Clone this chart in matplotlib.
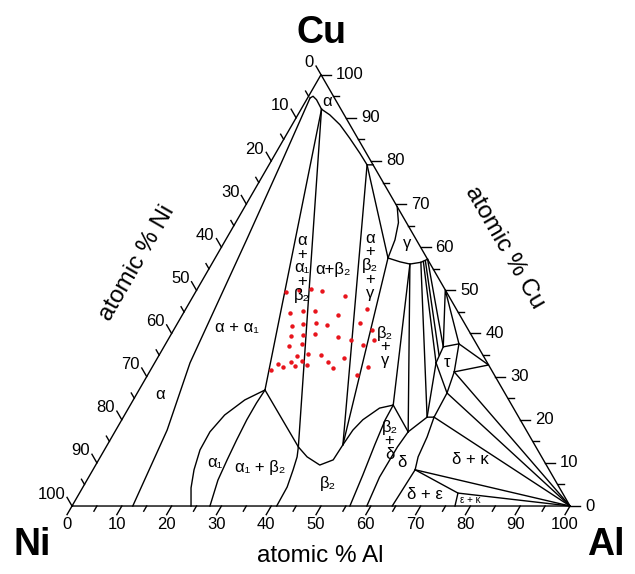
import matplotlib.pyplot as plt
import numpy as np

plt.rcParams['font.family'] = ['Liberation Sans', 'DejaVu Sans']

H = np.sqrt(3) / 2

# phase boundaries, points given as (at% Al, at% Cu)
alpha_line = [(12.2, 0), (10.3, 17.6), (7.1, 33.2), (4.2, 61.7), (2.2, 80), (0.5, 94.6)]
alpha_cap = [(0.5, 94.6), (0.9, 95.0), (2.0, 94.2), (4.1, 92.0), (6.4, 90.7), (9.6, 88.4),
             (13.1, 85.3), (16.9, 81.8), (19.7, 79.1), (20.9, 79.1)]
line_a = [(4.1, 92.0), (25.3, 26.9)]
line_b = [(4.1, 92.0), (38.6, 13.7), (39.5, 11.4), (40.2, 8.4), (41.0, 4.4), (41.1, 0)]
alpha1_left = [(25.3, 26.9), (22.4, 24.6), (20.1, 21.1), (19.1, 17.2), (19.2, 13.0),
               (20.3, 8.4), (21.8, 4.2), (23.9, 0)]
alpha1_right = [(25.3, 26.9), (25.1, 23.9), (25.1, 20.0), (25.4, 15.3), (25.8, 10.7),
                (26.3, 6.0), (27.7, 0)]
a1_b2_top = [(25.3, 26.9), (38.6, 13.7)]
beta2_top = [(38.6, 13.7), (41.5, 11.4), (45.0, 9.5), (47.1, 10.7), (47.3, 14.2),
             (47.6, 17.6), (48.4, 20.0), (50.4, 22.7), (52.8, 23.4)]
beta2_right = [(52.8, 23.4), (52.9, 20.0), (53.7, 14.2), (54.8, 7.2), (55.8, 0)]
alpha_beta2 = [(19.7, 79.1), (47.3, 14.2)]
alpha_gamma = [(19.7, 79.1), (34.7, 57.5)]
gamma_left = [(30.6, 69.4), (32.7, 65.7), (34.0, 61.7), (34.7, 57.5)]
gamma_bottom = [(34.7, 57.5), (37.6, 56.6), (39.8, 56.1), (41.8, 56.5), (42.8, 57.2)]
gamma_beta2 = [(34.7, 57.5), (47.3, 14.2)]
gamma_beta2_r = [(39.8, 56.1), (52.8, 23.4)]
gamma_delta = [(39.8, 56.1), (58.9, 17.2)]
beta2_delta = [(52.8, 23.4), (58.9, 17.2)]
delta_left = [(58.9, 17.2), (58.5, 13.7), (58.4, 6.7), (59.2, 0)]
delta_top = [(58.9, 17.2), (61.0, 20.6), (62.4, 20.6)]
delta_right = [(62.4, 20.6), (63.3, 16.0), (63.8, 11.4), (64.7, 8.4), (64.3, 0)]
delta_eps = [(64.7, 8.4), (76.0, 3.0), (76.9, 0)]
tau = [(56.5, 33.2), (56.1, 36.9), (58.9, 37.6), (61.2, 31.1), (62.2, 26.2), (56.5, 33.2)]
tau_delta = [(56.5, 33.2), (61.0, 20.6)]
tau_delta_r = [(62.2, 26.2), (62.4, 20.6)]
tau_top = [(56.1, 36.9), (49.9, 50.1), (58.9, 37.6)]
tau_right = [(58.9, 37.6), (67.3, 32.7), (61.2, 31.1)]
gamma_fan = [[(41.8, 56.5), (61.0, 20.6)],
             [(42.2, 56.7), (56.5, 33.2)],
             [(42.5, 56.9), (56.2, 35.0)],
             [(42.8, 57.2), (56.1, 36.9)]]
al_corner_ties = [(76.0, 3.0), (64.7, 8.4), (62.4, 20.6), (62.2, 26.2), (61.2, 31.1)]

boundaries = [alpha_line, alpha_cap, line_a, line_b, alpha1_left, alpha1_right, a1_b2_top,
              beta2_top, beta2_right, alpha_beta2, alpha_gamma, gamma_left, gamma_bottom,
              gamma_beta2, gamma_beta2_r, gamma_delta, beta2_delta, delta_left, delta_top,
              delta_right, delta_eps, tau, tau_delta, tau_delta_r, tau_top, tau_right] + gamma_fan

# measured alloys (red dots)
dots_al = [18.2, 20.5, 22.8, 25.2, 30.5, 21.5, 23.8, 26.2, 31.2, 36.4,
           23.2, 25.3, 27.7, 30.3, 36.6, 24.2, 26.5, 28.9, 33.9, 39.8,
           25.1, 27.3, 36.8, 39.7, 41.4, 27.7, 29.8, 32.4, 37.5, 24.9,
           26.2, 27.2, 29.4, 28.6, 30.8, 34.6, 36.3, 24.1, 43.4, 42.1]
dots_cu = [49.7, 50.1, 50.3, 49.9, 48.6, 44.7, 45.1, 45.1, 44.3, 45.6,
           41.8, 42.2, 42.4, 42.0, 42.4, 39.4, 39.7, 39.9, 39.1, 40.8,
           37.0, 37.6, 38.4, 37.4, 38.4, 34.8, 35.3, 35.0, 34.3, 32.9,
           32.2, 33.5, 33.7, 32.5, 32.7, 33.5, 32.1, 31.6, 32.2, 30.4]

# phase field labels: text, at% Al, at% Cu
phase_labels = [("α", 4.3, 93.7), ("α", 4.8, 25.8), ("α + α₁", 12.5, 41.3),
                ("α\n+\nα₁\n+\nβ₂", 18.6, 55.2), ("α+β₂", 25.0, 54.8),
                ("α\n+\nβ₂\n+\nγ", 32.0, 55.7), ("γ", 36.8, 60.9),
                ("β₂\n+\nγ", 44.4, 36.9), ("τ", 58.7, 33.2),
                ("β₂\n+\nδ", 56.2, 15.1), ("δ", 61.3, 10.0), ("δ + κ", 74.6, 10.7),
                ("δ + ε", 69.6, 2.6), ("α₁", 23.6, 10.2), ("α₁ + β₂", 33.3, 9.0),
                ("β₂", 48.7, 5.3)]

ticks = list(range(0, 101, 5))


def tern(pts):
    pts = np.asarray(pts, dtype=float)
    return pts[:, 0] + pts[:, 1] / 2, pts[:, 1] * H


fig = plt.figure(figsize=(6.35, 5.74), dpi=100)
ax = fig.add_axes([0, 0, 1, 1])
ax.set_xlim(-14.46, 113.05)
ax.set_ylim(-13.65, 101.6)
ax.axis('off')

lw = 1.0
ax.plot(*tern([(0, 0), (100, 0), (0, 100), (0, 0)]), color='k', lw=lw)
for b in boundaries:
    ax.plot(*tern(b), color='k', lw=lw)
for p in al_corner_ties:
    ax.plot(*tern([p, (100, 0)]), color='k', lw=lw)

x, y = tern(list(zip(dots_al, dots_cu)))
ax.plot(x, y, 'o', color='#e8141c', ms=3.2, mec='none')

for txt, al, cu in phase_labels:
    px, py = tern([(al, cu)])
    ax.text(px[0], py[0], txt, fontsize=12, ha='center', va='center', linespacing=0.9)
px, py = tern([(79.2, 1.4)])
ax.text(px[0], py[0], "ε + κ", fontsize=7, ha='center', va='center')

# axis ticks and labels
for v in ticks:
    major = v % 10 == 0
    L = 2.0 if major else 1.2
    # Al along the bottom
    bx, by = tern([(v, 0)])
    ax.plot([bx[0], bx[0] - 0.5 * L], [by[0], by[0] - H * L], color='k', lw=lw)
    # Ni along the left edge
    lx, ly = tern([(0, 100 - v)])
    ax.plot([lx[0], lx[0] - 0.5 * L], [ly[0], ly[0] + H * L], color='k', lw=lw)
    # Cu along the right edge
    rx, ry = tern([(100 - v, v)])
    ax.plot([rx[0], rx[0] + L], [ry[0], ry[0]], color='k', lw=lw)
    if major:
        ax.text(bx[0] - 1.0, by[0] - 2.3, str(v), fontsize=12, ha='center', va='top')
        ax.text(lx[0] - 1.4, ly[0] + 2.4, str(v), fontsize=12, ha='right', va='center')
        ax.text(rx[0] + 3.0, ry[0], str(v), fontsize=12, ha='left', va='center')

ax.text(50.0, 95.0, "Cu", fontsize=27, fontweight='bold', ha='center', va='center')
ax.text(-8.0, -7.8, "Ni", fontsize=27, fontweight='bold', ha='center', va='center')
ax.text(107.2, -7.8, "Al", fontsize=27, fontweight='bold', ha='center', va='center')
ax.text(49.8, -10.0, "atomic % Al", fontsize=17.5, ha='center', va='center')
ax.text(13.1, 48.8, "atomic % Ni", fontsize=17.5, ha='center', va='center', rotation=60)
ax.text(86.9, 52.0, "atomic % Cu", fontsize=17.5, ha='center', va='center', rotation=-60)

fig.savefig('out.png', dpi=100)
